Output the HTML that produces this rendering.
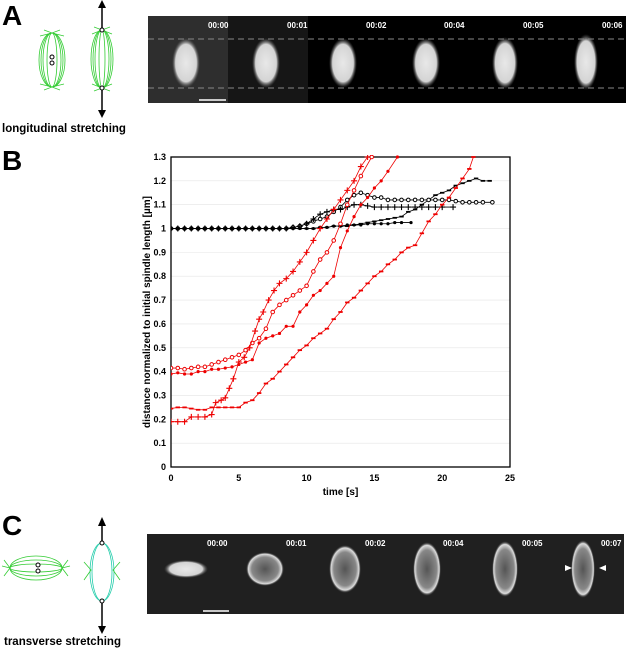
<!DOCTYPE html>
<html><head><meta charset="utf-8"><style>
body{margin:0;background:#fff;width:629px;height:649px;overflow:hidden;font-family:"Liberation Sans",sans-serif}
svg{position:absolute;left:0;top:0}
</style></head><body>
<svg id="fig" width="629" height="649">
<defs>
<radialGradient id="sp" cx="50%" cy="50%" r="50%"><stop offset="0%" stop-color="#e8e8e8"/><stop offset="75%" stop-color="#d4d4d4"/><stop offset="100%" stop-color="#555" stop-opacity="0"/></radialGradient>
<radialGradient id="sp2" cx="50%" cy="50%" r="50%"><stop offset="0%" stop-color="#555"/><stop offset="70%" stop-color="#888"/><stop offset="88%" stop-color="#ddd"/><stop offset="100%" stop-color="#333" stop-opacity="0"/></radialGradient>
</defs>
<text x="2" y="25" font-size="28" font-weight="bold">A</text>
<g stroke="#3c3" fill="none" stroke-width="0.8">
<ellipse cx="52" cy="60" rx="13" ry="27"/><ellipse cx="52" cy="60" rx="9" ry="27"/><ellipse cx="52" cy="60" rx="5" ry="27"/><ellipse cx="52" cy="60" rx="11" ry="27"/>
<path d="M44 30 L52 33 L60 30 M40 36 L52 33 L64 36 M44 90 L52 87 L60 90 M40 84 L52 87 L64 84"/>
<ellipse cx="102" cy="59" rx="11" ry="29"/><ellipse cx="102" cy="59" rx="7" ry="29"/><ellipse cx="102" cy="59" rx="3" ry="29"/><ellipse cx="102" cy="59" rx="9" ry="29"/>
<path d="M94 27 L102 30 L110 27 M92 34 L102 30 L112 34 M94 91 L102 88 L110 91 M92 84 L102 88 L112 84"/>
</g>
<g fill="#fff" stroke="#000" stroke-width="1"><circle cx="52" cy="57" r="2"/><circle cx="52" cy="63" r="2"/><circle cx="102" cy="30" r="2"/><circle cx="102" cy="88" r="2"/></g>
<g stroke="#000" stroke-width="1.5"><line x1="102" y1="6" x2="102" y2="28"/><line x1="102" y1="90" x2="102" y2="112"/></g>
<polygon points="98,8 106,8 102,0" fill="#000"/><polygon points="98,110 106,110 102,118" fill="#000"/>
<text x="2" y="132" font-size="11.5" font-weight="bold">longitudinal stretching</text>
<g>
<rect x="148" y="16" width="478" height="87" fill="#000"/>
<rect x="148" y="16" width="80" height="87" fill="#2e2e2e"/><rect x="228" y="16" width="80" height="87" fill="#161616"/>
<ellipse cx="186" cy="63" rx="14" ry="25" fill="url(#sp)"/><ellipse cx="266" cy="63" rx="14" ry="25" fill="url(#sp)"/><ellipse cx="343" cy="63" rx="14" ry="25" fill="url(#sp)"/><ellipse cx="426" cy="63" rx="14" ry="25" fill="url(#sp)"/><ellipse cx="505" cy="63" rx="13" ry="26" fill="url(#sp)"/><ellipse cx="586" cy="62" rx="12" ry="28" fill="url(#sp)"/>
<line x1="148" y1="39" x2="626" y2="39" stroke="#888" stroke-dasharray="6,4"/><line x1="148" y1="88" x2="626" y2="88" stroke="#888" stroke-dasharray="6,4"/>
<line x1="199" y1="100" x2="226" y2="100" stroke="#fff" stroke-width="1.5"/>
<g fill="#fff" font-size="8" font-weight="bold"><text x="208" y="28">00:00</text><text x="287" y="28">00:01</text><text x="366" y="28">00:02</text><text x="444" y="28">00:04</text><text x="523" y="28">00:05</text><text x="602" y="28">00:06</text></g>
</g>
<text x="2" y="170" font-size="28" font-weight="bold">B</text>
<g id="chart"></g>
<text x="2" y="535" font-size="28" font-weight="bold">C</text>
<g stroke="#3c3" fill="none" stroke-width="0.8">
<ellipse cx="36" cy="568" rx="26" ry="12"/><ellipse cx="36" cy="568" rx="26" ry="8"/><ellipse cx="36" cy="568" rx="26" ry="4"/>
<path d="M4 560 L10 568 L4 576 M68 560 L62 568 L68 576 M2 566 L10 568 M70 566 L62 568"/>
<g stroke="#2ca"><ellipse cx="102" cy="572" rx="12" ry="29"/><ellipse cx="102" cy="572" rx="10" ry="29"/></g>
<path d="M84 562 L91 570 L84 580 M120 562 L113 570 L120 580"/>
</g>
<g fill="#fff" stroke="#000"><circle cx="38" cy="565" r="2"/><circle cx="38" cy="571" r="2"/><circle cx="102" cy="543" r="2"/><circle cx="102" cy="601" r="2"/></g>
<g stroke="#000" stroke-width="1.5"><line x1="102" y1="524" x2="102" y2="541"/><line x1="102" y1="603" x2="102" y2="628"/></g>
<polygon points="98,526 106,526 102,517" fill="#000"/><polygon points="98,626 106,626 102,634" fill="#000"/>
<text x="4" y="645" font-size="11.5" font-weight="bold">transverse stretching</text>
<g>
<rect x="147" y="534" width="477" height="80" fill="#202020"/>
<ellipse cx="186" cy="569" rx="22" ry="9" fill="url(#sp)"/><ellipse cx="265" cy="569" rx="19" ry="17" fill="url(#sp2)"/><ellipse cx="345" cy="569" rx="16" ry="24" fill="url(#sp2)"/><ellipse cx="427" cy="569" rx="14" ry="27" fill="url(#sp2)"/><ellipse cx="505" cy="569" rx="13" ry="28" fill="url(#sp2)"/><ellipse cx="583" cy="569" rx="12" ry="29" fill="url(#sp2)"/>
<polygon points="565,565 572,568 565,571" fill="#fff"/><polygon points="606,565 599,568 606,571" fill="#fff"/>
<line x1="203" y1="611" x2="229" y2="611" stroke="#fff" stroke-width="1.5"/>
<g fill="#fff" font-size="8" font-weight="bold"><text x="207" y="546">00:00</text><text x="286" y="546">00:01</text><text x="365" y="546">00:02</text><text x="443" y="546">00:04</text><text x="522" y="546">00:05</text><text x="601" y="546">00:07</text></g>
</g>
</svg>
<script>
const xTicks=[0,5,10,15,20,25];
const yTicks=[0,0.1,0.2,0.3,0.4,0.5,0.6,0.7,0.8,0.9,1,1.1,1.2,1.3];
const b1x=[0,0.5,1,1.5,2,2.5,3,3.5,4,4.5,5,5.5,6,6.5,7,7.5,8,8.5,9,9.5,10,10.5,11,11.5,12,12.5,13,13.5,14,14.5,15,15.5,16,16.5,17,17.5,18,18.5,19,19.5,20,20.5,21,21.5,22,22.5,23,23.5];
const b1y=[1,1,1,1,1,1,1,1,1,1,1,1,1,1,1,1,1,1,1,1,1,1,1.005,1.005,1.01,1.01,1.01,1.015,1.02,1.025,1.03,1.035,1.04,1.045,1.05,1.07,1.08,1.1,1.12,1.14,1.15,1.16,1.18,1.19,1.2,1.21,1.2,1.2];
const b2x=[0,0.5,1,1.5,2,2.5,3,3.5,4,4.5,5,5.5,6,6.5,7,7.5,8,8.5,9,9.5,10,10.5,11,11.5,12,12.5,13,13.5,14,14.5,15,15.5,16,16.5,17,17.5,18,18.5,19,19.5,20,20.5,21,21.5,22,22.5,23,23.7];
const b2y=[1,1,1,1,1,1,1,1,1,1,1,1,1,1,1,1,1,1,1.005,1.01,1.02,1.03,1.04,1.05,1.07,1.09,1.12,1.14,1.15,1.14,1.13,1.13,1.12,1.12,1.12,1.12,1.12,1.12,1.12,1.12,1.12,1.12,1.115,1.11,1.11,1.11,1.11,1.11];
const b3x=[0,0.5,1,1.5,2,2.5,3,3.5,4,4.5,5,5.5,6,6.5,7,7.5,8,8.5,9,9.5,10,10.5,11,11.5,12,12.5,13,13.5,14,14.5,15,15.5,16,16.5,17,17.5,18,18.5,19,19.5,20,20.8];
const b3y=[1,1,1,1,1,1,1,1,1,1,1,1,1,1,1,1,1,1,1.005,1.01,1.02,1.04,1.06,1.07,1.08,1.08,1.09,1.1,1.1,1.095,1.09,1.09,1.09,1.09,1.09,1.09,1.09,1.09,1.09,1.09,1.09,1.09];
const b4x=[0,0.5,1,1.5,2,2.5,3,3.5,4,4.5,5,5.5,6,6.5,7,7.5,8,8.5,9,9.5,10,10.5,11,11.5,12,12.5,13,13.5,14,14.5,15,15.5,16,16.5,17,17.7];
const b4y=[1,1,1,1,1,1,1,1,1,1,1,1,1,1,1,1,1,1,1,1,1,1,1.005,1.005,1.01,1.01,1.015,1.015,1.015,1.02,1.02,1.02,1.02,1.025,1.025,1.025];
const r1x=[0,0.5,1,1.5,2,2.5,3,3.3,3.7,4,4.3,4.6,5,5.4,5.8,6.2,6.5,6.8,7.2,7.6,8,8.5,9,9.5,10,10.5,11,11.5,12,12.5,13,13.5,14,14.5];
const r1y=[0.19,0.19,0.19,0.21,0.21,0.21,0.22,0.27,0.28,0.29,0.33,0.37,0.44,0.46,0.5,0.57,0.62,0.65,0.7,0.74,0.77,0.79,0.82,0.86,0.9,0.95,1.0,1.04,1.08,1.12,1.16,1.2,1.26,1.3];
const r2x=[0,0.5,1,1.5,2,2.5,3,3.5,4,4.5,5,5.5,6,6.5,7,7.5,8,8.5,9,9.5,10,10.5,11,11.5,12,12.5,13,13.5,14,14.8];
const r2y=[0.415,0.415,0.41,0.415,0.42,0.42,0.43,0.44,0.45,0.46,0.47,0.49,0.52,0.54,0.58,0.65,0.68,0.7,0.72,0.74,0.76,0.82,0.87,0.9,0.95,1.02,1.1,1.16,1.22,1.3];
const r3x=[0,0.5,1,1.5,2,2.5,3,3.5,4,4.5,5,5.5,6,6.5,7,7.5,8,8.5,9,9.5,10,10.5,11,11.5,12,12.5,13,13.5,14,14.5,15,15.5,16,16.7];
const r3y=[0.39,0.395,0.39,0.39,0.4,0.4,0.41,0.41,0.415,0.42,0.43,0.44,0.45,0.52,0.54,0.55,0.56,0.59,0.59,0.65,0.68,0.72,0.74,0.77,0.8,0.92,0.99,1.05,1.1,1.13,1.17,1.2,1.24,1.3];
const r4x=[0,0.5,1,1.5,2,2.5,3,3.5,4,4.5,5,5.5,6,6.5,7,7.5,8,8.5,9,9.5,10,10.5,11,11.5,12,12.5,13,13.5,14,14.5,15,15.5,16,16.5,17,17.5,18,18.5,19,19.5,20,20.5,21,21.5,22,22.3];
const r4y=[0.245,0.25,0.25,0.245,0.24,0.24,0.25,0.25,0.25,0.25,0.25,0.27,0.28,0.31,0.35,0.37,0.4,0.43,0.46,0.49,0.51,0.54,0.56,0.58,0.62,0.65,0.69,0.71,0.74,0.77,0.8,0.82,0.85,0.87,0.9,0.92,0.93,0.98,1.03,1.06,1.1,1.13,1.17,1.21,1.25,1.3];
const L=171,R=510,T=157,B=467;
const sx=v=>L+(v/25)*(R-L), sy=v=>B-(v/1.3)*(B-T);
const NS='http://www.w3.org/2000/svg', g=document.getElementById('chart');
function mk(t,a,p){const e=document.createElementNS(NS,t);for(const k in a)e.setAttribute(k,a[k]);(p||g).appendChild(e);return e;}
mk('rect',{x:L,y:T,width:R-L,height:B-T,fill:'#fff',stroke:'none'});
yTicks.forEach(v=>{const gl=mk('line',{x1:L,x2:R,y1:sy(v),y2:sy(v),stroke:'#e4e4e4','stroke-width':0.6});


const t=mk('text',{x:L-5,y:sy(v)+3,'text-anchor':'end','font-size':9,'font-weight':'bold'});t.textContent=String(v);

});
xTicks.forEach(v=>{const t=mk('text',{x:sx(v),y:B+14,'text-anchor':'middle','font-size':9,'font-weight':'bold'});t.textContent=String(v);

});
const fr=mk('rect',{x:L,y:T,width:R-L,height:B-T,fill:'none',stroke:'#000','stroke-width':1.3});


const xt=mk('text',{x:(L+R)/2,y:B+28,'text-anchor':'middle','font-size':10,'font-weight':'bold'});xt.textContent='time [s]';


const yt=mk('text',{x:0,y:0,'text-anchor':'middle','font-size':10,'font-weight':'bold',transform:`translate(150,${(T+B)/2}) rotate(-90)`});yt.textContent='distance normalized to initial spindle length [µm]';


const clip=mk('clipPath',{id:'pc'});mk('rect',{x:L,y:T-2,width:R-L,height:B-T+2},clip);
function series(xs,ys,col,mark,name){const sg=mk('g',{'clip-path':'url(#pc)'});


mk('polyline',{points:xs.map((x,i)=>sx(x)+','+sy(ys[i])).join(' '),fill:'none',stroke:col,'stroke-width':0.8},sg);
xs.forEach((x,i)=>{const cx=sx(x),cy=sy(ys[i]);
if(mark==='plus'){mk('path',{d:`M${cx-3} ${cy}h6M${cx} ${cy-3}v6`,stroke:col,'stroke-width':1.1},sg);}
else if(mark==='circle'){mk('circle',{cx,cy,r:1.8,fill:'#fff',stroke:col,'stroke-width':1},sg);}
else if(mark==='dot'){mk('circle',{cx,cy,r:1.6,fill:col},sg);}
else{mk('path',{d:`M${cx-2.2} ${cy}h4.4`,stroke:col,'stroke-width':1.8},sg);}});}
series(b1x,b1y,'#000','dash','series-black-1');
series(b2x,b2y,'#000','circle','series-black-2');
series(b3x,b3y,'#000','plus','series-black-3');
series(b4x,b4y,'#000','dot','series-black-4');
series(r4x,r4y,'#e00','dash','series-red-4');
series(r3x,r3y,'#e00','dot','series-red-3');
series(r2x,r2y,'#e00','circle','series-red-2');
series(r1x,r1y,'#e00','plus','series-red-1');
</script>
</body></html>
